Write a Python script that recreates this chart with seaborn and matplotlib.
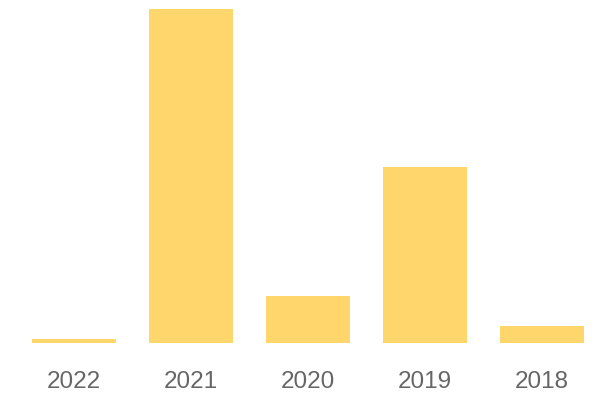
import matplotlib
matplotlib.use("Agg")
import matplotlib.pyplot as plt
import seaborn as sns
import pandas as pd

years = ["2022", "2021", "2020", "2019", "2018"]
values = [1.2, 100, 14.0, 52.5, 5.1]

sns.set_theme(style="white")
plt.rcParams['font.family'] = ['Liberation Sans', 'DejaVu Sans']

df = pd.DataFrame({"year": years, "value": values})

fig = plt.figure(figsize=(6, 4), dpi=100)
ax = fig.add_axes([15.5/600, 57/400, 585/600, (343-8.5)/400])
sns.barplot(data=df, x="year", y="value", color="#FFD66B", saturation=1,
            width=84/117, ax=ax, edgecolor="none")
ax.set_xlim(-0.5, 4.5)
ax.set_ylim(0, max(values))
ax.set_xlabel("")
ax.set_ylabel("")
ax.set_yticks([])
for s in ax.spines.values():
    s.set_visible(False)
ax.tick_params(axis="x", length=0, pad=20, labelsize=17.5, labelcolor="#666666")
fig.savefig("out.png", dpi=100)
